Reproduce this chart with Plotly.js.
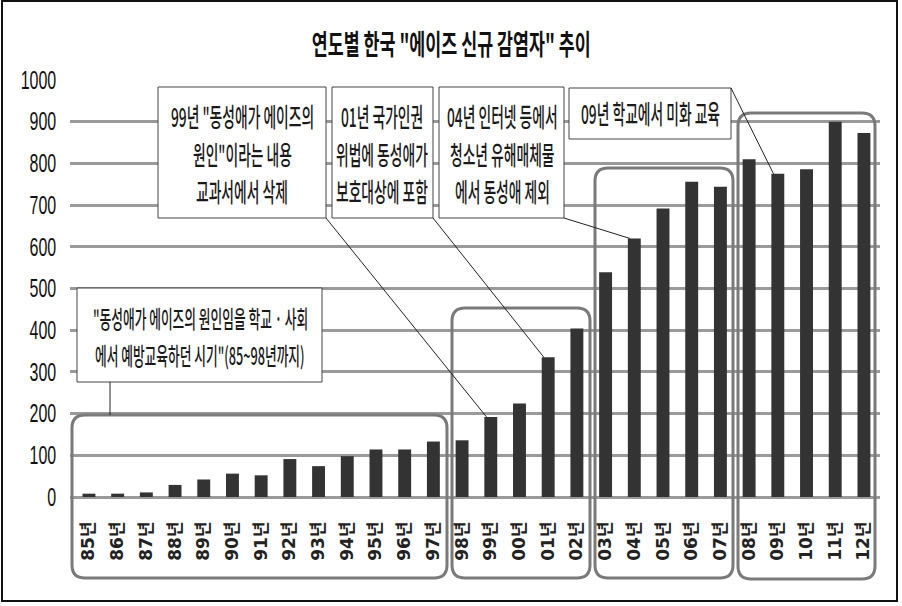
<!DOCTYPE html>
<html>
<head>
<meta charset="utf-8">
<script src="https://cdn.plot.ly/plotly-3.0.1.min.js"></script>
<style>
  body { margin: 0; background: #fff; }
  #chart { position: absolute; left: 0; top: 0; width: 902px; height: 606px; }
  #frame { position: absolute; left: 1px; top: 0; width: 897px; height: 602px;
           border: 2px solid #111; box-sizing: border-box; pointer-events: none; }
  /* the original uses condensed faces, squeeze the text */
  .annotation-text { transform: scaleX(0.53); transform-box: fill-box; transform-origin: center; }
  .annotation[data-index="0"] .annotation-text { transform: scaleX(0.62); }
  .ytick text { scale: 0.64 1; transform-box: fill-box; transform-origin: right center; }
</style>
</head>
<body>
<div id="chart"></div>
<div id="frame"></div>
<script>
// years and new HIV/AIDS cases per year
var years = ['85년','86년','87년','88년','89년','90년','91년','92년','93년','94년',
             '95년','96년','97년','98년','99년','00년','01년','02년','03년','04년',
             '05년','06년','07년','08년','09년','10년','11년','12년'];
var cases = [8, 8, 11, 29, 42, 56, 52, 91, 74, 98,
             114, 114, 133, 136, 192, 224, 335, 404, 539, 620,
             692, 756, 744, 810, 775, 786, 900, 873];

var titleText = '연도별 한국 "에이즈 신규 감염자" 추이';

// callout texts, one entry per line
var note85 = ['"동성애가 에이즈의 원인임을 학교 · 사회', '에서 예방교육하던 시기"(85~98년까지)'];
var note99 = ['99년 "동성애가 에이즈의', '원인"이라는 내용', '교과서에서 삭제'];
var note01 = ['01년 국가인권', '위법에 동성애가', '보호대상에 포함'];
var note04 = ['04년 인터넷 등에서', '청소년 유해매체물', '에서 동성애 제외'];
var note09 = ['09년 학교에서 미화 교육'];

// plot box in pixels, used to place decorations
var L = 70, R = 880, T = 80, B = 497;
var xr = [-0.66, 27.56];
function px(p) { return (p - L) / (R - L); }
function py(p) { return (B - p) / (B - T); }
function barX(year) { return (years.indexOf(year) - 0.15 - xr[0]) / (xr[1] - xr[0]); }
function barY(year) { return cases[years.indexOf(year)] / 1000; }

function rrect(x0, x1, yTop, yBot, r) {
  var a = px(x0), b = px(x1), t = py(yTop), d = py(yBot);
  var rx = r / (R - L), ry = r / (B - T);
  return 'M' + (a + rx) + ',' + t + ' L' + (b - rx) + ',' + t +
         ' Q' + b + ',' + t + ' ' + b + ',' + (t - ry) +
         ' L' + b + ',' + (d + ry) + ' Q' + b + ',' + d + ' ' + (b - rx) + ',' + d +
         ' L' + (a + rx) + ',' + d + ' Q' + a + ',' + d + ' ' + a + ',' + (d + ry) +
         ' L' + a + ',' + (t - ry) + ' Q' + a + ',' + t + ' ' + (a + rx) + ',' + t + ' Z';
}

var shapes = [];
// title first so css can pick it by index
var annotations = [{xref: 'paper', yref: 'paper', x: px(451), y: py(43), xanchor: 'center', yanchor: 'middle',
                    showarrow: false, text: '<b>' + titleText + '</b>',
                    font: {family: 'Noto Sans CJK KR', size: 28, color: '#111'}}];

// rounded group boxes around the periods
[[72, 447, 415, 578], [452, 590, 308, 578], [595, 733, 168, 578], [738, 875, 113, 579]].forEach(function (g) {
  shapes.push({type: 'path', xref: 'paper', yref: 'paper', layer: 'above',
               path: rrect(g[0], g[1], g[2], g[3], 13),
               line: {color: '#7a7a7a', width: 3}});
});

var callouts = [
  {box: [77, 322, 288, 382], lines: note85, size: 24, cx: 200, ly: [318, 355], from: [110, 382], to: null},
  {box: [158, 326, 87, 218], lines: note99, size: 26, cx: 242, ly: [115, 153, 190], from: [326, 218], to: '99년'},
  {box: [332, 433, 87, 218], lines: note01, size: 26, cx: 382, ly: [115, 153, 190], from: [433, 218], to: '01년'},
  {box: [439, 564, 87, 218], lines: note04, size: 26, cx: 502, ly: [115, 153, 190], from: [564, 218], to: '04년'},
  {box: [569, 731, 88, 139], lines: note09, size: 26, cx: 650, ly: [113], from: [731, 88], to: '09년'}
];

callouts.forEach(function (c) {
  shapes.push({type: 'rect', xref: 'paper', yref: 'paper', layer: 'above',
               x0: px(c.box[0]), x1: px(c.box[1]), y0: py(c.box[2]), y1: py(c.box[3]),
               fillcolor: '#fff', line: {color: '#444', width: 1}});
  var end = c.to ? [barX(c.to), barY(c.to)] : [px(c.from[0]), py(415)];
  shapes.push({type: 'line', xref: 'paper', yref: 'paper', layer: 'above',
               x0: px(c.from[0]), y0: py(c.from[1]), x1: end[0], y1: end[1],
               line: {color: '#222', width: 1}});
  c.lines.forEach(function (t, k) {
    annotations.push({xref: 'paper', yref: 'paper', x: px(c.cx), y: py(c.ly[k]),
                      xanchor: 'center', yanchor: 'middle', showarrow: false, text: t,
                      font: {family: 'Noto Sans CJK KR', size: c.size, weight: 500, color: '#1a1a1a'}});
  });
});

var trace = {
  x: years,
  y: cases,
  type: 'bar',
  marker: {color: '#333333'},
  hoverinfo: 'x+y'
};

var layout = {
  width: 902, height: 606,
  margin: {l: L, r: 902 - R, t: T, b: 606 - B, autoexpand: false},
  paper_bgcolor: '#fff', plot_bgcolor: '#fff',
  showlegend: false,
  bargap: 0.55,
  xaxis: {type: 'category', range: xr, tickangle: -90, ticks: '', showgrid: false,
          showline: false, zeroline: false, ticklabelstandoff: 20,
          tickfont: {family: 'DejaVu Sans, Noto Sans CJK KR', size: 17, weight: 'bold', color: '#222'}},
  yaxis: {range: [0, 1000], dtick: 100, ticks: '', showline: false,
          gridcolor: '#9a9a9a', gridwidth: 3,
          zeroline: true, zerolinecolor: '#9a9a9a', zerolinewidth: 3,
          ticklabelstandoff: 20,
          tickfont: {family: 'Liberation Sans, Arial, sans-serif', size: 25, color: '#111'}},
  shapes: shapes,
  annotations: annotations
};

Plotly.newPlot('chart', [trace], layout, {displayModeBar: false, staticPlot: true});
</script>
</body>
</html>
